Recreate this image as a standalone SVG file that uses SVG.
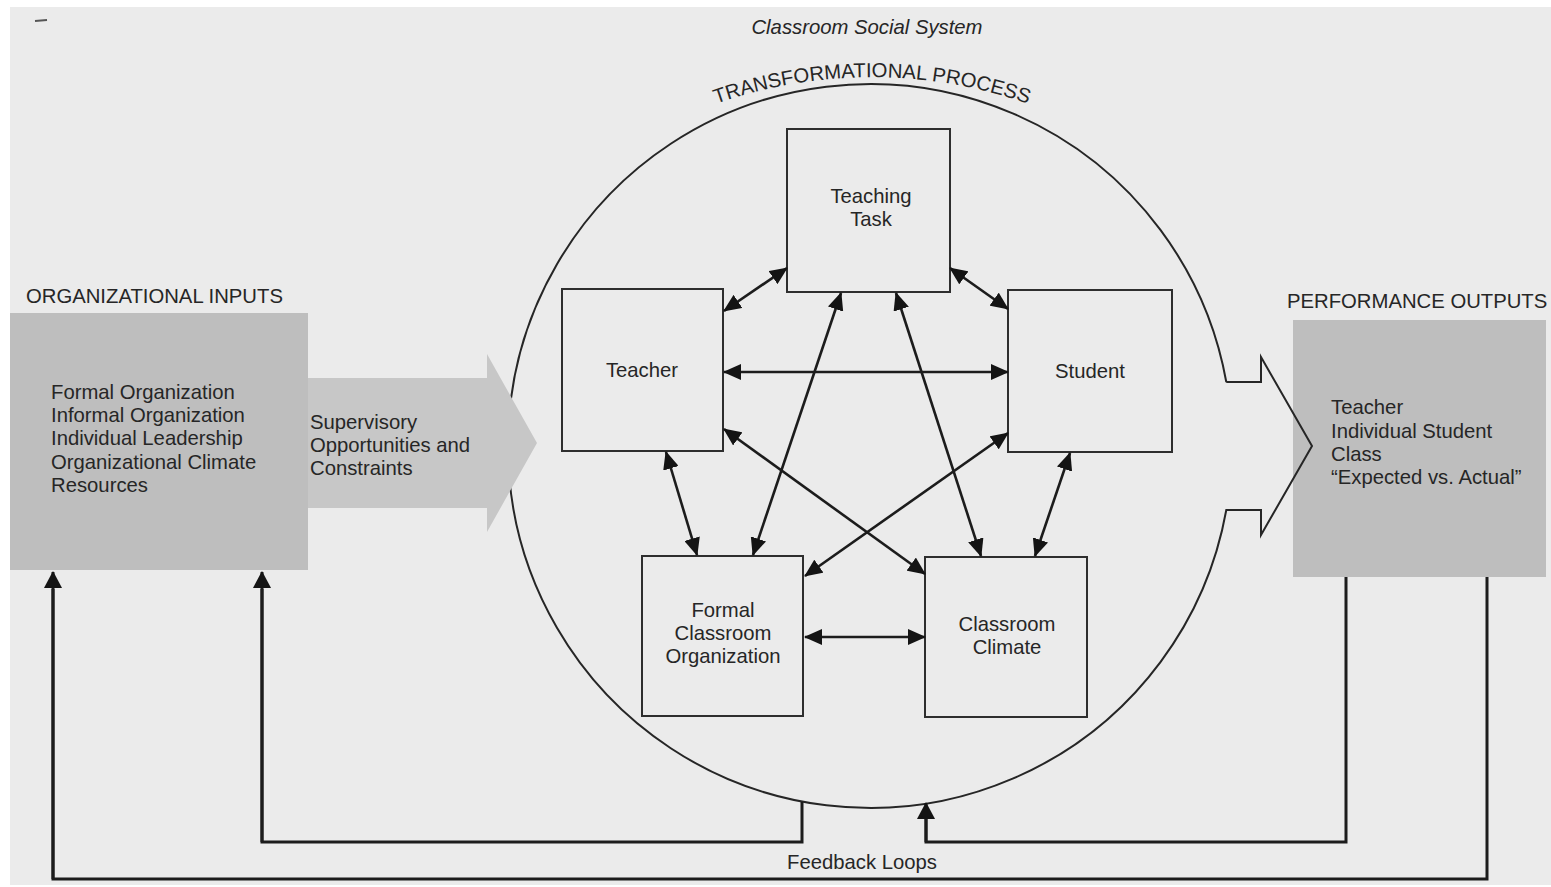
<svg xmlns="http://www.w3.org/2000/svg" width="1551" height="887" viewBox="0 0 1551 887">
  <defs>
    <style>
      .page { fill: #ebebeb; }
      .lbl { font-family: "Liberation Sans", Arial, Helvetica, sans-serif; font-size: 20.3px; fill: #262626; }
      .mid { text-anchor: middle; }
      .node { fill: none; stroke: #2e2e2e; stroke-width: 2; }
      .link { stroke: #1c1c1c; stroke-width: 2.6; fill: none; marker-start: url(#head); marker-end: url(#head); }
      .loop { stroke: #1c1c1c; stroke-width: 3; fill: none; }
      .loop-in { stroke: #1c1c1c; stroke-width: 3; fill: none; marker-end: url(#bighead); }
      .shade-box { fill: #bebebe; }
      .shade-arrow { fill: #c7c7c7; }
      .ring { fill: none; stroke: #262626; stroke-width: 2; }
    </style>
    <marker id="head" viewBox="0 0 18 16" refX="17" refY="8" markerWidth="18" markerHeight="16" markerUnits="userSpaceOnUse" orient="auto-start-reverse">
      <path d="M0,0 L18,8 L0,16 Z" fill="#141414"/>
    </marker>
    <marker id="bighead" viewBox="0 0 17 18" refX="16" refY="9" markerWidth="17" markerHeight="18" markerUnits="userSpaceOnUse" orient="auto">
      <path d="M0,0 L17,9 L0,18 Z" fill="#141414"/>
    </marker>
    <path id="arcText" d="M 688 114.7 A 470 470 0 0 1 1056 114.7"/>
  </defs>

  <!-- paper -->
  <rect x="0" y="0" width="1551" height="887" fill="#ffffff"/>
  <rect class="page" x="10" y="7" width="1541" height="878"/>
  <line x1="35" y1="21" x2="47" y2="20" stroke="#555" stroke-width="2"/>

  <!-- headings -->
  <text class="lbl mid" x="867" y="34" font-style="italic">Classroom Social System</text>
  <text class="lbl mid" font-size="20.5">
    <textPath href="#arcText" startOffset="50%">TRANSFORMATIONAL PROCESS</textPath>
  </text>

  <!-- organizational inputs -->
  <g id="inputs">
    <text class="lbl" x="26" y="303">ORGANIZATIONAL INPUTS</text>
    <rect class="shade-box" x="10" y="313" width="298" height="257"/>
    <text class="lbl" x="51" y="399">Formal Organization</text>
    <text class="lbl" x="51" y="422">Informal Organization</text>
    <text class="lbl" x="51" y="445">Individual Leadership</text>
    <text class="lbl" x="51" y="469">Organizational Climate</text>
    <text class="lbl" x="51" y="492">Resources</text>
  </g>

  <!-- performance outputs -->
  <g id="outputs">
    <text class="lbl" x="1287" y="308">PERFORMANCE OUTPUTS</text>
    <rect class="shade-box" x="1293" y="320" width="253" height="257" fill="#c2c2c2"/>
    <text class="lbl" x="1331" y="414">Teacher</text>
    <text class="lbl" x="1331" y="438">Individual Student</text>
    <text class="lbl" x="1331" y="461">Class</text>
    <text class="lbl" x="1331" y="484">“Expected vs. Actual”</text>
  </g>

  <!-- transformational process: ring opening into the output arrow -->
  <g id="process">
    <path class="ring" d="M 1226.3 382 L 1261 382 L 1261 357 L 1312 446 L 1261 535 L 1261 510 L 1226.3 510 A 362 362 0 1 1 1226.3 382"/>
  </g>

  <!-- supervisory arrow into the ring -->
  <g id="supervisory">
    <polygon class="shade-arrow" points="308,378 487,378 487,354 537,443 487,532 487,508 308,508"/>
    <text class="lbl" x="310" y="429">Supervisory</text>
    <text class="lbl" x="310" y="452">Opportunities and</text>
    <text class="lbl" x="310" y="475">Constraints</text>
  </g>

  <!-- classroom elements -->
  <g id="teaching-task">
    <rect class="node" x="787" y="129" width="163" height="163"/>
    <text class="lbl mid" x="871" y="203">Teaching</text>
    <text class="lbl mid" x="871" y="226">Task</text>
  </g>
  <g id="teacher">
    <rect class="node" x="562" y="289" width="161" height="162"/>
    <text class="lbl mid" x="642" y="377">Teacher</text>
  </g>
  <g id="student">
    <rect class="node" x="1008" y="290" width="164" height="162"/>
    <text class="lbl mid" x="1090" y="378">Student</text>
  </g>
  <g id="formal-classroom-organization">
    <rect class="node" x="642" y="556" width="161" height="160"/>
    <text class="lbl mid" x="723" y="617">Formal</text>
    <text class="lbl mid" x="723" y="640">Classroom</text>
    <text class="lbl mid" x="723" y="663">Organization</text>
  </g>
  <g id="classroom-climate">
    <rect class="node" x="925" y="557" width="162" height="160"/>
    <text class="lbl mid" x="1007" y="631">Classroom</text>
    <text class="lbl mid" x="1007" y="654">Climate</text>
  </g>

  <!-- connectors -->
  <g id="connectors">
    <line class="link" x1="724" y1="311" x2="787" y2="268"/>
    <line class="link" x1="950" y1="268" x2="1008" y2="309"/>
    <line class="link" x1="724" y1="372" x2="1008" y2="372"/>
    <line class="link" x1="841" y1="293" x2="753" y2="555"/>
    <line class="link" x1="896" y1="293" x2="981" y2="556"/>
    <line class="link" x1="724" y1="429" x2="925" y2="574"/>
    <line class="link" x1="1008" y1="433" x2="805" y2="576"/>
    <line class="link" x1="666" y1="452" x2="697" y2="555"/>
    <line class="link" x1="1070" y1="453" x2="1035" y2="556"/>
    <line class="link" x1="805" y1="637" x2="925" y2="637"/>

    <!-- feedback loops -->
    <path class="loop" d="M 802 802 L 802 842 L 262 842 L 262 589"/>
    <path class="loop-in" d="M 262 842 L 262 572"/>
    <path class="loop" d="M 1487 577 L 1487 879 L 53 879 L 53 589"/>
    <path class="loop-in" d="M 53 879 L 53 572"/>
    <path class="loop" d="M 1346 577 L 1346 842 L 926 842 L 926 818"/>
    <path class="loop-in" d="M 926 842 L 926 803"/>
  </g>
  <text class="lbl" x="787" y="869">Feedback Loops</text>
</svg>
